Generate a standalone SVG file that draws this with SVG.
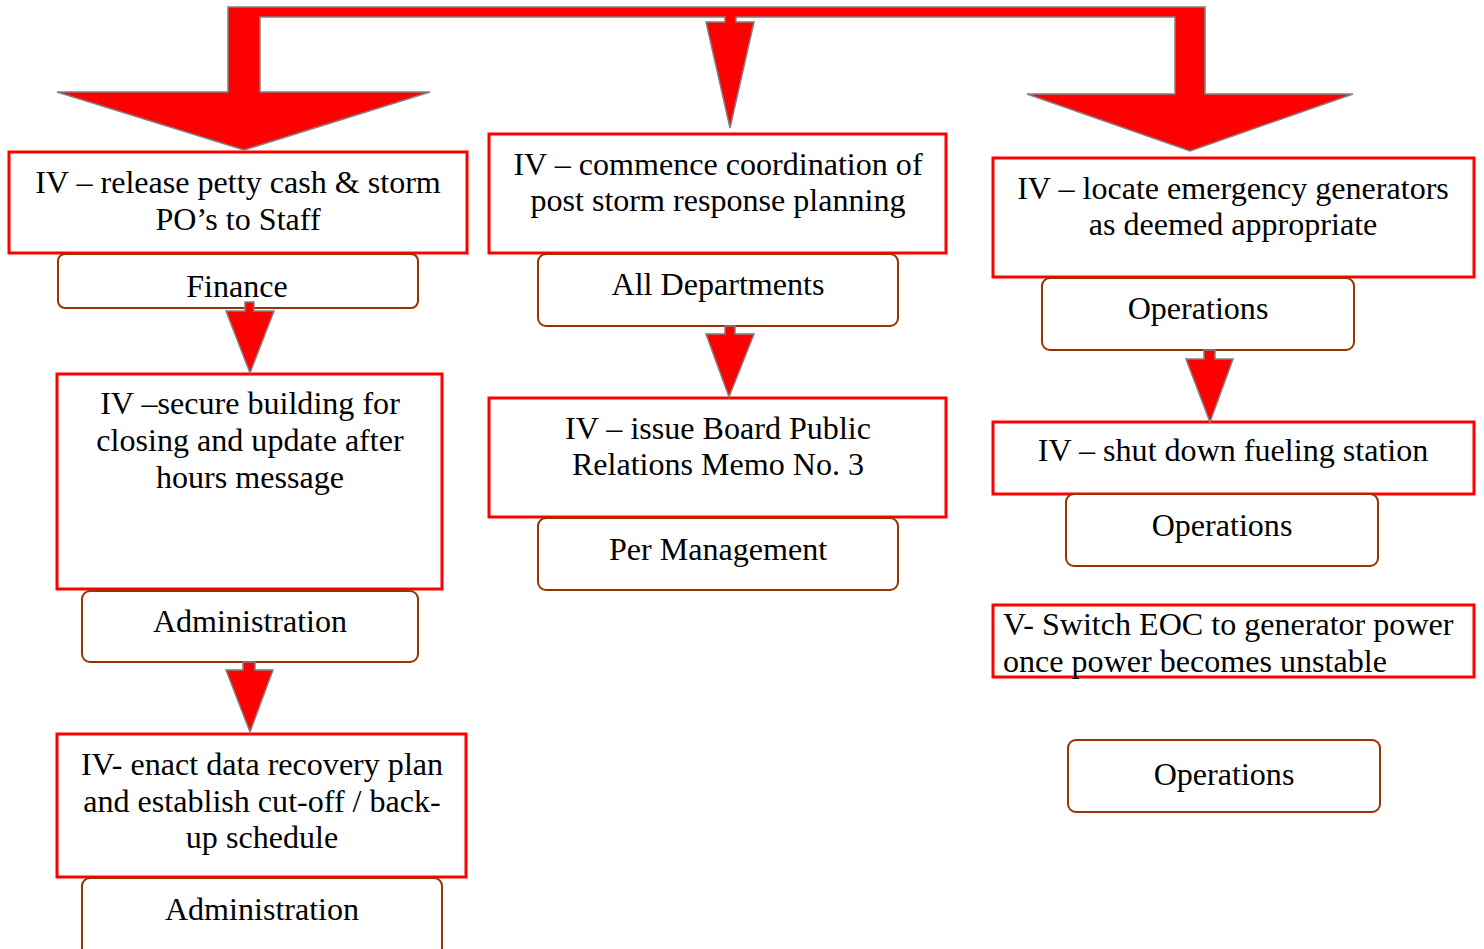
<svg xmlns="http://www.w3.org/2000/svg" width="1484" height="949" viewBox="0 0 1484 949">
<style>
.box{fill:#fff;stroke:#ff0000;stroke-width:3}
.role{fill:#fff;stroke:#993300;stroke-width:2}
.arr{fill:#ff0000;stroke:#808080;stroke-width:1.5;stroke-linejoin:miter}
text{font-family:"Liberation Serif","Times New Roman",serif;font-size:32.1px;fill:#000}
.c{text-anchor:middle}
</style>
<rect width="1484" height="949" fill="#fff"/>
<g id="n1">
<rect class="box" x="9" y="152" width="458" height="101"/>
<text class="c" x="238" y="193">IV – release petty cash &amp; storm</text>
<text class="c" x="238" y="230">PO’s to Staff</text>
</g>
<g id="n1r">
<rect class="role" x="58" y="254" width="360" height="54" rx="7"/>
<text class="c" x="237" y="297">Finance</text>
</g>
<g id="n2">
<rect class="box" x="489" y="134" width="457" height="119"/>
<text class="c" x="718" y="175">IV – commence coordination of</text>
<text class="c" x="718" y="211">post storm response planning</text>
</g>
<g id="n2r">
<rect class="role" x="538" y="254" width="360" height="72" rx="8"/>
<text class="c" x="718" y="295">All Departments</text>
</g>
<g id="n3">
<rect class="box" x="993" y="158" width="481" height="119"/>
<text class="c" x="1233" y="199">IV – locate emergency generators</text>
<text class="c" x="1233" y="235">as deemed appropriate</text>
</g>
<g id="n3r">
<rect class="role" x="1042" y="278" width="312" height="72" rx="8"/>
<text class="c" x="1198" y="319">Operations</text>
</g>
<g id="n4">
<rect class="box" x="57" y="374" width="385" height="215"/>
<text class="c" x="250" y="414">IV –secure building for</text>
<text class="c" x="250" y="451">closing and update after</text>
<text class="c" x="250" y="488">hours message</text>
</g>
<g id="n4r">
<rect class="role" x="82" y="591" width="336" height="71" rx="8"/>
<text class="c" x="250" y="632">Administration</text>
</g>
<g id="n5">
<rect class="box" x="489" y="398" width="457" height="119"/>
<text class="c" x="718" y="439">IV – issue Board Public</text>
<text class="c" x="718" y="475">Relations Memo No. 3</text>
</g>
<g id="n5r">
<rect class="role" x="538" y="518" width="360" height="72" rx="8"/>
<text class="c" x="718" y="560">Per Management</text>
</g>
<g id="n6">
<rect class="box" x="993" y="422" width="481" height="72"/>
<text class="c" x="1233" y="461">IV – shut down fueling station</text>
</g>
<g id="n6r">
<rect class="role" x="1066" y="494" width="312" height="72" rx="8"/>
<text class="c" x="1222" y="536">Operations</text>
</g>
<g id="n7">
<rect class="box" x="993" y="605" width="481" height="72"/>
<text x="1003" y="635">V- Switch EOC to generator power</text>
<text x="1003" y="672">once power becomes unstable</text>
</g>
<g id="n7r">
<rect class="role" x="1068" y="740" width="312" height="72" rx="8"/>
<text class="c" x="1224" y="785">Operations</text>
</g>
<g id="n8">
<rect class="box" x="57" y="734" width="409" height="143"/>
<text class="c" x="262" y="775">IV- enact data recovery plan</text>
<text class="c" x="262" y="812">and establish cut-off / back-</text>
<text class="c" x="262" y="848">up schedule</text>
</g>
<g id="n8r">
<rect class="role" x="82" y="878" width="360" height="80" rx="8"/>
<text class="c" x="262" y="920">Administration</text>
</g>
<g id="connectors">
<polygon class="arr" points="228,7 1205,7 1205,94 1353,94 1190,151 1027,94 1175,94 1175,17 736,17 736,22 754,22 730,128 706,22 725,22 725,17 260,17 260,92 430,92 244,150 57,92 228,92"/>
<polygon class="arr" points="245,302 254,302 254,311 274,311 250,373 226,311 245,311"/>
<polygon class="arr" points="243,662 255,662 255,670 273,670 250,732 226,670 243,670"/>
<polygon class="arr" points="725,326 735,326 735,334 754,334 729,397 706,334 725,334"/>
<polygon class="arr" points="1204,350 1215,350 1215,359 1233,359 1210,422 1186,359 1204,359"/>
</g>
</svg>
